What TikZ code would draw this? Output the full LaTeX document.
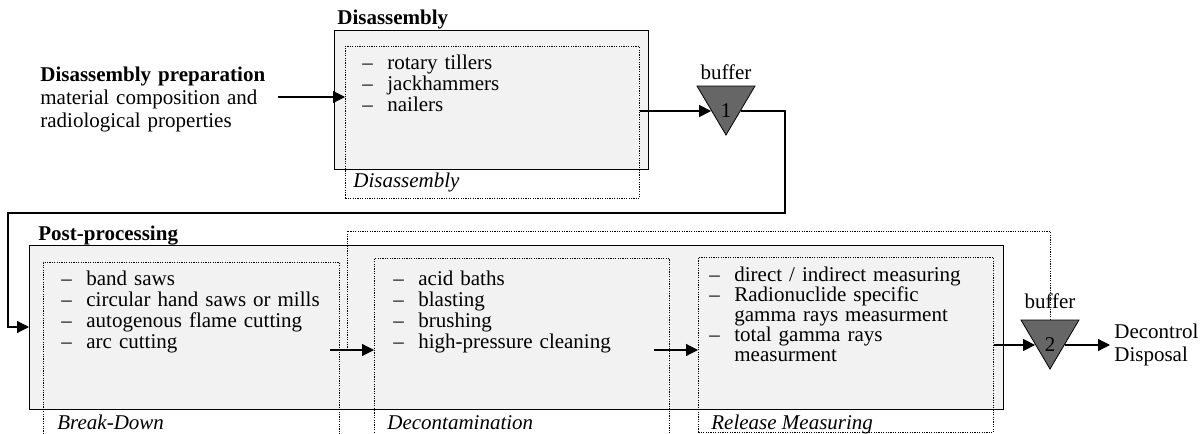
\documentclass[tikz,border=0pt]{standalone}
\usepackage{fontspec}
\setmainfont{Liberation Serif}
\usetikzlibrary{calc}
\usetikzlibrary{arrows.meta}

\newcommand{\itm}{\makebox[12.5pt][l]{--}}

\tikzset{
  every node/.style={font=\fontsize{10.5}{10.5}\selectfont},
  stage/.style={draw=black, line width=0.6pt, fill=black!5, inner sep=0pt, anchor=north west},
  proc/.style={draw=black, line width=0.4pt, dash pattern=on 0.6pt off 0.6pt, inner sep=0pt, anchor=north west},
  title/.style={inner sep=0pt, anchor=base west, font=\fontsize{10.5}{10.5}\selectfont\bfseries},
  items/.style={inner sep=0pt, anchor=base west, text width=150pt, align=left},
  caption/.style={inner sep=0pt, anchor=base west, font=\fontsize{10.5}{10.5}\selectfont\itshape},
  bufnum/.style={inner sep=0pt, minimum width=14.5pt},
  buftri/.style={draw=black, line width=0.4pt, fill=black!60},
  arr/.style={line width=0.6pt, -{Triangle[length=6pt,width=6pt]}},
  backline/.style={line width=0.4pt, dash pattern=on 0.6pt off 0.6pt}
}

\begin{document}
\begin{tikzpicture}[x=0.5pt,y=-0.5pt]
\useasboundingbox (0,0) rectangle (1201,434);

% stages
\node[stage, minimum width=157pt, minimum height=69.5pt] (dis) at (334,30) {};
\node[stage, minimum width=487pt, minimum height=82pt] (post) at (29,245) {};
\node[title] (distitle) at (337,24) {Disassembly};
\node[title] (posttitle) at (38,240) {Post-processing};

% process steps
\node[proc, minimum width=147pt, minimum height=76pt] (disin) at (345,46) {};
\node[proc, minimum width=148pt, minimum height=88pt] (bd) at (43,262) {};
\node[proc, minimum width=147.5pt, minimum height=90pt] (dc) at (374,258) {};
\node[proc, minimum width=147.5pt, minimum height=87.5pt] (rm) at (698,257) {};

\node[items] (disitems) at (362,69) {\itm rotary tillers\\ \itm jackhammers\\ \itm nailers};
\node[items] (bditems) at (61,285) {\itm band saws\\ \itm circular hand saws or mills\\ \itm autogenous flame cutting\\ \itm arc cutting};
\node[items] (dcitems) at (393,285) {\itm acid baths\\ \itm blasting\\ \itm brushing\\ \itm high-pressure cleaning};
\node[items, font=\fontsize{10.5}{10.1}\selectfont] (rmitems) at (709,281) {\itm direct / indirect measuring\\ \itm Radionuclide specific\\ \hspace*{12.5pt}gamma rays measurment\\ \itm total gamma rays\\ \hspace*{12.5pt}measurment};

\node[caption] (discap) at (353,187) {Disassembly};
\node[caption] (bdcap) at (57,429) {Break-Down};
\node[caption] (dccap) at (387,429) {Decontamination};
\node[caption] (rmcap) at (711,429) {Release Measuring};

% input and output
\node[items, text width=125pt, font=\fontsize{10.5}{11.5}\selectfont, anchor=west] (prep) at (40,99) {\textbf{Disassembly preparation}\\ material composition and\\ radiological properties};
\node[items, text width=45pt, font=\fontsize{10.5}{11.5}\selectfont, anchor=west] (out) at (1114,345) {Decontrol\\ Disposal};

% buffers
\foreach \n/\x/\y/\h in {1/726/111/32, 2/1050/345/37} {
  \draw[buftri] ($(\x,\y)+(-29,-25)$) -- ($(\x,\y)+(29,-25)$) -- ($(\x,\y)+(0,24)$) -- cycle;
  \node[bufnum] (b\n) at (\x,\y) {\n};
  \node[inner sep=0pt, anchor=base] at (\x,{\y-\h}) {buffer};
}

% flow
\coordinate (prepout) at (278,97);
\draw[arr] (prepout) -- (prepout -| disin.west);
\draw[arr] (disin.east |- b1) -- (b1.west);
\coordinate (up) at (785,213);
\coordinate (down) at (8,327);
\draw[arr] (b1.east) -| (up) -| (down) -- (down -| post.west);
\coordinate (bdout) at (330,350);
\draw[arr] (bdout) -- (bdout -| dc.west);
\coordinate (dcout) at (654,350);
\draw[arr] (dcout) -- (dcout -| rm.west);
\draw[arr] (rm.east |- b2) -- (b2.west);
\draw[arr] (b2.east) -- ([xshift=-2pt]b2.east -| out.west);

% back to decontamination
\coordinate (fbfoot) at (347,350);
\coordinate (fbtop) at (1050,231);
\draw[backline] (fbfoot) |- (fbtop) -- ($(b2)+(0,-25)$);
\end{tikzpicture}
\end{document}
